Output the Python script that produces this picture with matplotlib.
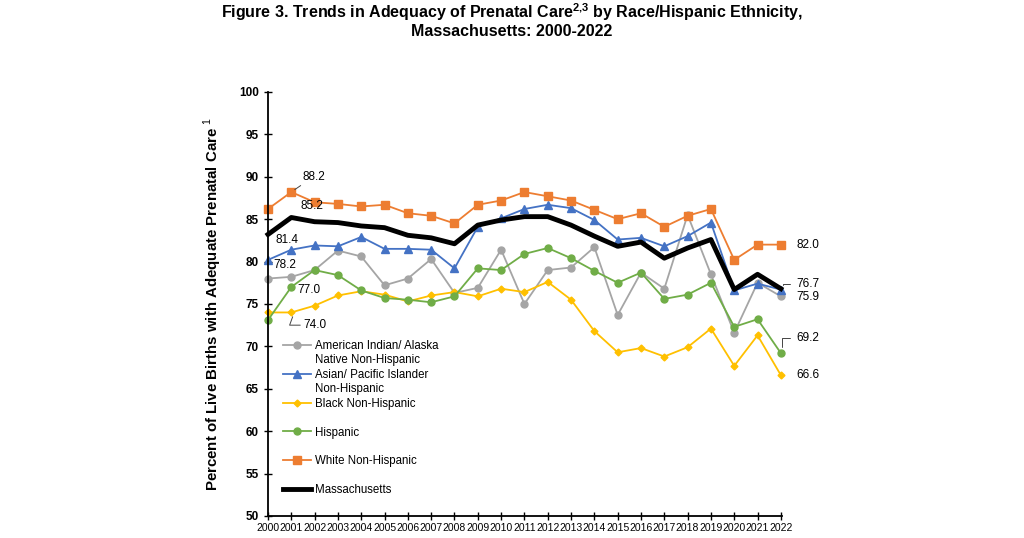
import matplotlib
matplotlib.use('Agg')
import matplotlib.pyplot as plt

plt.rcParams['font.family'] = ['Liberation Sans', 'DejaVu Sans']
plt.rcParams['mathtext.fontset'] = 'custom'
plt.rcParams['mathtext.rm'] = 'Liberation Sans'
plt.rcParams['mathtext.bf'] = 'Liberation Sans:bold'

years = list(range(2000, 2023))

aian = [78.0, 78.2, 79.0, 81.3, 80.6, 77.2, 78.0, 80.3, 76.3, 76.9, 81.4, 75.0,
        79.0, 79.3, 81.7, 73.7, 78.7, 76.8, 85.5, 78.5, 71.6, 77.5, 75.9]
asian = [80.2, 81.4, 81.9, 81.8, 82.9, 81.5, 81.5, 81.4, 79.2, 84.1, 85.1, 86.2,
         86.7, 86.3, 84.9, 82.6, 82.8, 81.8, 83.0, 84.6, 76.6, 77.4, 76.7]
black = [74.0, 74.0, 74.8, 76.0, 76.5, 76.1, 75.3, 76.0, 76.4, 75.9, 76.8, 76.4,
         77.6, 75.5, 71.8, 69.3, 69.8, 68.8, 69.9, 72.1, 67.7, 71.3, 66.6]
hispanic = [73.1, 77.0, 79.0, 78.4, 76.6, 75.7, 75.5, 75.2, 75.9, 79.2, 79.0, 80.9,
            81.6, 80.4, 78.9, 77.5, 78.7, 75.6, 76.1, 77.5, 72.3, 73.2, 69.2]
white = [86.2, 88.2, 87.0, 86.8, 86.5, 86.7, 85.7, 85.4, 84.5, 86.7, 87.2, 88.2,
         87.7, 87.2, 86.1, 85.0, 85.7, 84.1, 85.4, 86.2, 80.2, 82.0, 82.0]
mass = [83.2, 85.2, 84.7, 84.6, 84.2, 84.0, 83.1, 82.8, 82.1, 84.3, 84.9, 85.3,
        85.3, 84.3, 83.0, 81.8, 82.3, 80.4, 81.6, 82.6, 76.7, 78.5, 76.8]

# legend labels: first line goes in the legend, second line hangs below it
names = [('American Indian/ Alaska', 'Native Non-Hispanic'),
         ('Asian/ Pacific Islander', 'Non-Hispanic'),
         ('Black Non-Hispanic', None),
         ('Hispanic', None),
         ('White Non-Hispanic', None),
         ('Massachusetts', None)]

fig = plt.figure(figsize=(10.24, 5.38), dpi=100)
ax = fig.add_axes([0.2617, 0.041, 0.502, 0.788])

ax.plot(years, aian, color='#A5A5A5', marker='o', markersize=5, lw=1.3, label=names[0][0])
ax.plot(years, asian, color='#4472C4', marker='^', markersize=5.5, lw=1.3, label=names[1][0])
ax.plot(years, black, color='#FFC000', marker='D', markersize=3.5, lw=1.3, label=names[2][0])
ax.plot(years, hispanic, color='#70AD47', marker='o', markersize=5, lw=1.3, label=names[3][0])
ax.plot(years, white, color='#ED7D31', marker='s', markersize=5.5, lw=1.3, label=names[4][0])
ax.plot(years, mass, color='black', lw=3.5, label=names[5][0])
for ln in ax.lines:
    ln.set_clip_on(False)

# value labels for 2001
lbl = dict(fontsize=8.5, ha='center', va='center')
ax.annotate('88.2', xy=(2001.05, 88.3), xytext=(2001.95, 90.0),
            arrowprops=dict(arrowstyle='-', color='#444444', lw=0.7,
                            shrinkA=8, shrinkB=2), **lbl)
ax.text(2001.9, 86.55, '85.2', **lbl)
ax.text(2000.8, 82.6, '81.4', **lbl)
ax.text(2000.7, 79.6, '78.2', **lbl)
ax.text(2001.75, 76.65, '77.0', **lbl)
ax.annotate('74.0', xy=(2001.1, 73.8), xytext=(2002.0, 72.5),
            arrowprops=dict(arrowstyle='-', color='#444444', lw=0.7,
                            connectionstyle='angle,angleA=0,angleB=70',
                            shrinkA=12, shrinkB=2), **lbl)

# value labels for 2022
rl = dict(fontsize=8.5, ha='left', va='center', annotation_clip=False)
ax.text(2022.65, 82.0, '82.0', fontsize=8.5, ha='left', va='center')
ax.annotate('76.7', xy=(2022.1, 76.9), xytext=(2022.65, 77.4),
            arrowprops=dict(arrowstyle='-', color='#444444', lw=0.7,
                            connectionstyle='angle,angleA=0,angleB=90',
                            shrinkA=2, shrinkB=2), **rl)
ax.text(2022.65, 75.8, '75.9', fontsize=8.5, ha='left', va='center')
ax.annotate('69.2', xy=(2022.05, 69.6), xytext=(2022.65, 71.0),
            arrowprops=dict(arrowstyle='-', color='#444444', lw=0.7,
                            connectionstyle='angle,angleA=0,angleB=90',
                            shrinkA=2, shrinkB=2), **rl)
ax.text(2022.65, 66.6, '66.6', fontsize=8.5, ha='left', va='center')

ax.set_xlim(2000, 2022.05)
ax.set_ylim(50, 100)
ax.set_yticks(range(50, 101, 5))
ax.set_xticks(years)
ax.set_xticklabels([str(y) for y in years], fontsize=7.5)
for t in ax.get_yticklabels():
    t.set_fontweight('bold')
    t.set_fontsize(8.5)
ax.tick_params(axis='both', direction='inout', length=6, width=1, color='black')
ax.tick_params(axis='x', pad=2)
for s in ['top', 'right']:
    ax.spines[s].set_visible(False)
ax.spines['left'].set_linewidth(1.3)
ax.spines['bottom'].set_linewidth(1.3)

ax.set_ylabel('Percent of Live Births with Adequate Prenatal Care $^{1}$',
              fontsize=10.8, fontweight='bold', labelpad=11)

leg = ax.legend(loc='upper left', bbox_to_anchor=(0.02, 0.425), frameon=False,
                fontsize=8.3, handlelength=2.4, labelspacing=1.45, borderaxespad=0,
                handletextpad=0.4)
for txt, (first, second) in zip(leg.get_texts(), names):
    if second:
        ax.annotate(second, xy=(0, 0), xycoords=txt, xytext=(0, -1.5),
                    textcoords='offset points', ha='left', va='top',
                    fontsize=8.3, zorder=10, annotation_clip=False)

fig.text(0.5, 0.962,
         'Figure 3. Trends in Adequacy of Prenatal Care$^{\\mathbf{2{,}3}}$ by Race/Hispanic Ethnicity,\n'
         'Massachusetts: 2000-2022',
         ha='center', va='center', fontsize=11.5, fontweight='bold', linespacing=1.05)

fig.savefig('out.png', dpi=100)
